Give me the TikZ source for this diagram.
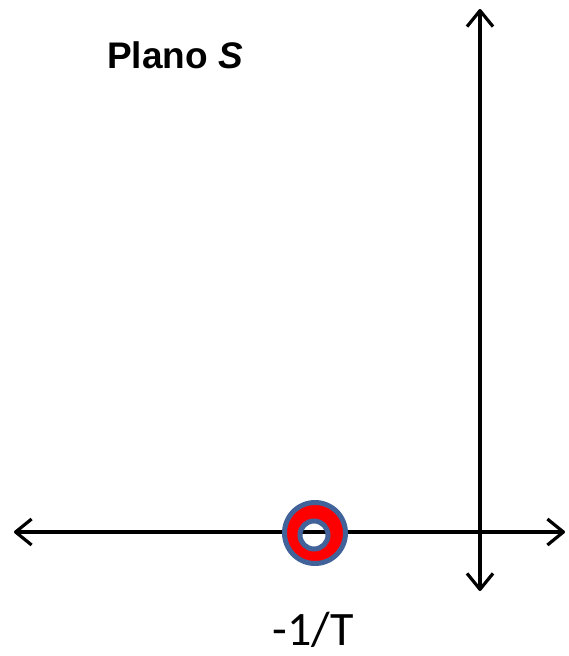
\documentclass[tikz,border=0pt]{standalone}
\usepackage{fontspec}
\setmainfont{Liberation Sans}
\newfontfamily\labelfont{Carlito}
\usetikzlibrary{arrows.meta}
\definecolor{poleblue}{RGB}{65,99,154}
\definecolor{polered}{RGB}{255,0,0}

\begin{document}
\begin{tikzpicture}[x=1pt, y=-1pt,
    axis/.style={line width=3.2pt, line cap=round,
        {Straight Barb[length=16pt, width=26pt, line join=round]}-{Straight Barb[length=16pt, width=26pt, line join=round]}},
    txt/.style={inner sep=0pt}]
        \useasboundingbox (0,0) rectangle (568,656);

        % --- Axes of the s-plane ---
        \coordinate (west) at (14, 532);
        \coordinate (east) at (565, 532);
        \coordinate (north) at (480, 9);
        \coordinate (south) at (480, 591);
        \draw[axis] (west) -- (east);
        \draw[axis] (south) -- (north);

        % --- Pole at -1/T ---
        \coordinate (pole) at (315, 533);
        \coordinate (hole) at (314, 535);
        \fill[polered, even odd rule] (pole) circle (30.5) (hole) circle (14);
        \draw[poleblue, line width=5pt] (pole) circle (30.5);
        \draw[poleblue, line width=5pt] (hole) circle (14);

        % --- Labels ---
        \node[txt, anchor=base west, font=\bfseries\fontsize{37}{42}\selectfont] (title) at (107, 68) {Plano \textit{S}};
        \node[txt, anchor=base, font=\labelfont\fontsize{48}{56}\selectfont] (polelabel) at (313, 645) {-1/T};

    \end{tikzpicture}
\end{document}
